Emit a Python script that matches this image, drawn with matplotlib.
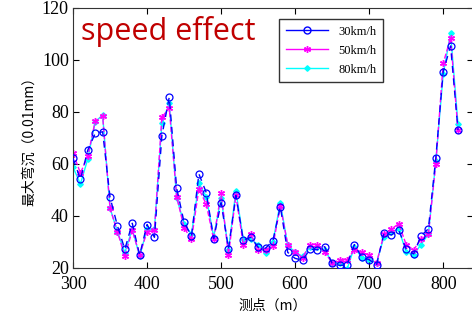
import matplotlib
matplotlib.use('Agg')
import matplotlib.pyplot as plt
from matplotlib.lines import Line2D
import numpy as np

# 测点位置 (m)
station = [300, 310, 320, 330, 340, 350, 360, 370, 380, 390,
           400, 410, 420, 430, 440, 450, 460, 470, 480, 490,
           500, 510, 520, 530, 540, 550, 560, 570, 580, 590,
           600, 610, 620, 630, 640, 650, 660, 670, 680, 690,
           700, 710, 720, 730, 740, 750, 760, 770, 780, 790,
           800, 810, 820]

# 最大弯沉 (0.01mm)
v30 = [62.2, 54.1, 65.4, 71.8, 72.4, 47.2, 36.2, 27.2, 37.2, 25.0,
       36.7, 31.8, 70.8, 85.7, 50.7, 37.6, 32.3, 56.2, 49.0, 31.3,
       45.1, 27.4, 47.9, 30.8, 31.8, 28.0, 27.6, 30.5, 43.6, 26.0,
       23.7, 23.0, 27.2, 27.0, 28.2, 21.8, 21.0, 21.2, 29.0, 24.2,
       23.2, 21.2, 33.3, 32.7, 34.6, 27.2, 25.4, 32.3, 35.1, 62.2,
       95.5, 105.4, 73.1]
v50 = [64.2, 56.5, 63.0, 76.5, 78.5, 43.0, 34.0, 24.5, 34.5, 25.0,
       34.0, 34.5, 78.0, 81.5, 47.5, 35.5, 31.0, 50.5, 44.5, 31.0,
       49.0, 25.0, 48.0, 29.0, 33.0, 27.0, 27.0, 28.5, 44.0, 29.0,
       26.0, 24.0, 29.0, 29.0, 26.0, 22.0, 23.0, 23.0, 27.0, 26.0,
       25.0, 22.0, 33.0, 35.0, 37.0, 29.0, 27.0, 31.0, 33.0, 60.0,
       98.7, 108.5, 73.0]
v80 = [58.8, 52.3, 62.0, 76.3, 78.8, 43.0, 34.0, 25.9, 35.0, 24.5,
       35.0, 34.9, 75.6, 83.3, 47.0, 37.0, 33.0, 52.6, 47.4, 32.0,
       47.0, 27.0, 49.6, 31.0, 31.0, 29.0, 25.6, 30.0, 45.1, 28.8,
       26.0, 24.5, 28.0, 28.0, 27.0, 22.0, 22.0, 19.5, 28.0, 24.0,
       23.0, 22.0, 32.0, 34.0, 35.0, 26.0, 25.0, 29.0, 33.0, 61.0,
       94.6, 110.2, 75.4]

serif = ['Liberation Serif', 'Noto Sans CJK SC']
plt.rcParams['font.family'] = serif

fig = plt.figure(figsize=(4.72, 3.20), dpi=100)
ax = fig.add_axes([0.1547, 0.1625, 0.847, 0.8125])

asterisk = (6, 2, 0)
ax.plot(station, v80, color='cyan', lw=1.0, marker='D', ms=2.8,
        mfc='cyan', mec='cyan', zorder=1)
ax.plot(station, v50, color='magenta', lw=1.0, ls='--', marker=asterisk, ms=5,
        mec='magenta', zorder=2)
ax.plot(station, v30, color='blue', lw=1.0, ls=(0, (5, 4)), marker='o', ms=5,
        mfc='none', mec='blue', mew=0.9, zorder=3)

ax.set_xlim(300, 840)
ax.set_ylim(20, 120)
ax.set_xticks([300, 400, 500, 600, 700, 800])
ax.set_yticks([20, 40, 60, 80, 100, 120])
ax.tick_params(direction='in', top=True, right=True, labelsize=13,
               length=4, width=0.8, pad=3)
ax.tick_params(axis='x', pad=6)
for s in ax.spines.values():
    s.set_linewidth(0.8)
    s.set_color('#333333')

ax.set_xlabel('测点（m）', fontsize=10, family=['Noto Sans CJK SC'], labelpad=4)
ax.set_ylabel('最大弯沉（0.01mm）', fontsize=10, family=['Noto Sans CJK SC'], labelpad=4)

ax.text(0.02, 0.97, 'speed effect', transform=ax.transAxes, fontsize=22,
        color='#c00000', family='Open Sans', va='top', ha='left')

handles = [Line2D([], [], color='blue', lw=1, marker='o', mfc='none', ms=5),
           Line2D([], [], color='magenta', lw=1, marker=asterisk, ms=5),
           Line2D([], [], color='cyan', lw=1, marker='D', ms=2.8)]
leg = ax.legend(handles, ['30km/h', '50km/h', '80km/h'], loc='upper left',
                bbox_to_anchor=(0.515, 0.958), fontsize=9, frameon=True,
                fancybox=False, handlelength=3.4, borderpad=0.55,
                labelspacing=0.55, edgecolor='black', borderaxespad=0)
leg.get_frame().set_linewidth(1.0)

fig.savefig('out.png', dpi=100)
plt.close(fig)
